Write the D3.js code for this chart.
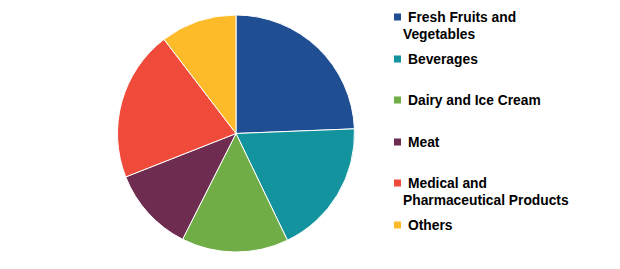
<!DOCTYPE html>
<html><head><meta charset="utf-8">
<script src="https://cdn.jsdelivr.net/npm/d3@7"></script>
<style>body{margin:0;background:#fff}svg{display:block}</style>
</head><body>
<svg id="c" width="620" height="269"></svg>
<script>
const categories = ["Fresh Fruits and Vegetables","Beverages","Dairy and Ice Cream","Meat","Medical and Pharmaceutical Products","Others"];
const legendLines = [["Fresh Fruits and","Vegetables"],["Beverages"],["Dairy and Ice Cream"],["Meat"],["Medical and","Pharmaceutical Products"],["Others"]];
const values = [24.4, 18.5, 14.6, 11.6, 20.6, 10.4];
const colors = ["#1F4E92","#13939E","#70AD47","#6E2C50","#F04A3A","#FDBB2A"];

const svg = d3.select("#c");
const cx = 236, cy = 133.5, r = 118.5;
const pie = d3.pie().sort(null).value(d => d)(values);
const arc = d3.arc().innerRadius(0).outerRadius(r);
const color = d3.scaleOrdinal().domain(categories).range(colors);

svg.append("g").attr("transform", `translate(${cx},${cy})`)
  .selectAll("path").data(pie).join("path")
  .attr("d", arc)
  .attr("fill", (d,i) => color(categories[i]))
  .attr("stroke", "#fff").attr("stroke-width", 1);

const legendY = [17, 59, 100, 142, 183, 225];
const lg = svg.append("g");
categories.forEach((c, i) => {
  const g = lg.append("g");
  g.append("rect").attr("x", 394).attr("y", legendY[i] - 3.5).attr("width", 7).attr("height", 7).attr("fill", color(c));
  legendLines[i].forEach((t, j) => {
    g.append("text").attr("x", j === 0 ? 408 : 403).attr("y", legendY[i] + 5 + j * 17)
      .attr("font-family", "'Liberation Sans', Arial, sans-serif").attr("font-weight", "bold")
      .attr("font-size", 13.8).attr("fill", "#000").text(t);
  });
});
</script>
</body></html>
